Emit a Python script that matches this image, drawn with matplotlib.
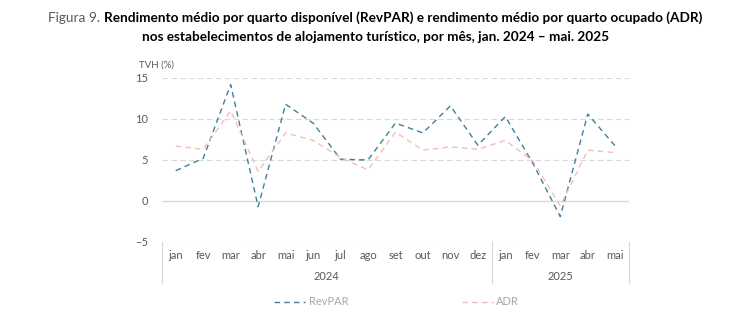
import matplotlib
matplotlib.use('Agg')
import matplotlib.pyplot as plt
import matplotlib.transforms as mtransforms

# Cores
COR_REVPAR = '#3F7F9B'
COR_ADR = '#F2BDBD'
COR_TEXTO = '#595959'
COR_GRELHA = '#D9D9D9'

plt.rcParams['font.family'] = ['Lato', 'DejaVu Sans']

meses = ['jan', 'fev', 'mar', 'abr', 'mai', 'jun', 'jul', 'ago', 'set', 'out', 'nov', 'dez',
         'jan', 'fev', 'mar', 'abr', 'mai']
anos = ['2024', '2025']
meses_por_ano = [12, 5]

revpar = [3.7, 5.2, 14.2, -0.7, 11.8, 9.5, 5.1, 5.0, 9.5, 8.3, 11.6, 6.8,
          10.3, 4.6, -1.9, 10.6, 6.7]
adr = [6.7, 6.3, 11.0, 3.6, 8.3, 7.4, 5.3, 3.8, 8.4, 6.2, 6.6, 6.3,
       7.4, 4.9, -0.6, 6.2, 5.9]

fig = plt.figure(figsize=(7.51, 3.24), dpi=100)
ax = fig.add_axes([0.2157, 0.2531, 0.6218, 0.5062])

x = list(range(len(meses)))
ax.plot(x, revpar, color=COR_REVPAR, linestyle=(0, (4, 3)), linewidth=1.0, label='RevPAR')
ax.plot(x, adr, color=COR_ADR, linestyle=(0, (4, 3)), linewidth=1.0, label='ADR')

ax.set_xlim(-0.5, len(meses) - 0.5)
ax.set_ylim(-5, 15)
ax.set_yticks([-5, 0, 5, 10, 15])
ax.set_xticks([])
ax.tick_params(axis='y', length=0, labelsize=8, labelcolor=COR_TEXTO, pad=10)

for v in [5, 10, 15]:
    ax.axhline(v, color=COR_GRELHA, linestyle=(0, (5, 3)), linewidth=0.8, zorder=0)
ax.axhline(0, color=COR_GRELHA, linewidth=1.0, zorder=0)
ax.axhline(-5, color=COR_GRELHA, linestyle=(0, (5, 3)), linewidth=0.8, zorder=0)

for s in ax.spines.values():
    s.set_visible(False)

# Eixo de categorias (meses e anos)
trans = mtransforms.blended_transform_factory(ax.transData, ax.transAxes)
for i, m in enumerate(meses):
    ax.text(i, -0.08, m, transform=trans, ha='center', va='center',
            fontsize=8, color=COR_TEXTO)
inicio = 0
limites = [-0.5]
for ano, n in zip(anos, meses_por_ano):
    centro = inicio + (n - 1) / 2
    ax.text(centro, -0.21, ano, transform=trans, ha='center', va='center',
            fontsize=8, color=COR_TEXTO)
    inicio += n
    limites.append(inicio - 0.5)
for lx in limites:
    ax.plot([lx, lx], [0, -0.25], transform=trans, color=COR_GRELHA,
            linewidth=0.8, clip_on=False)

ax.text(-0.05, 1.05, 'TVH (%)', transform=ax.transAxes, ha='left', va='bottom',
        fontsize=7, color=COR_TEXTO)

leg = fig.legend(loc='center', bbox_to_anchor=(0.528, 0.068), ncol=2, frameon=False,
                 fontsize=8, handlelength=2.8, handletextpad=0.3, columnspacing=10.2)
for t in leg.get_texts():
    t.set_color('#A6A6A6')

# Título: "Figura 9." normal + resto a negrito, centrado em conjunto
TAM_TITULO = 9.8
t1 = fig.text(0, 0.945, 'Figura 9. ', fontsize=TAM_TITULO, color=COR_TEXTO, ha='left', va='center')
t2 = fig.text(0, 0.945, 'Rendimento médio por quarto disponível (RevPAR) e rendimento médio por quarto ocupado (ADR)',
              fontsize=TAM_TITULO, fontweight='bold', color='black', ha='left', va='center')
fig.text(0.5, 0.885, 'nos estabelecimentos de alojamento turístico, por mês, jan. 2024 – mai. 2025',
         fontsize=TAM_TITULO, fontweight='bold', color='black', ha='center', va='center')

renderer = fig.canvas.get_renderer()
w1 = t1.get_window_extent(renderer).width / fig.bbox.width
w2 = t2.get_window_extent(renderer).width / fig.bbox.width
x0 = 0.5 - (w1 + w2) / 2
t1.set_x(x0)
t2.set_x(x0 + w1)

fig.savefig('out.png', dpi=100)
